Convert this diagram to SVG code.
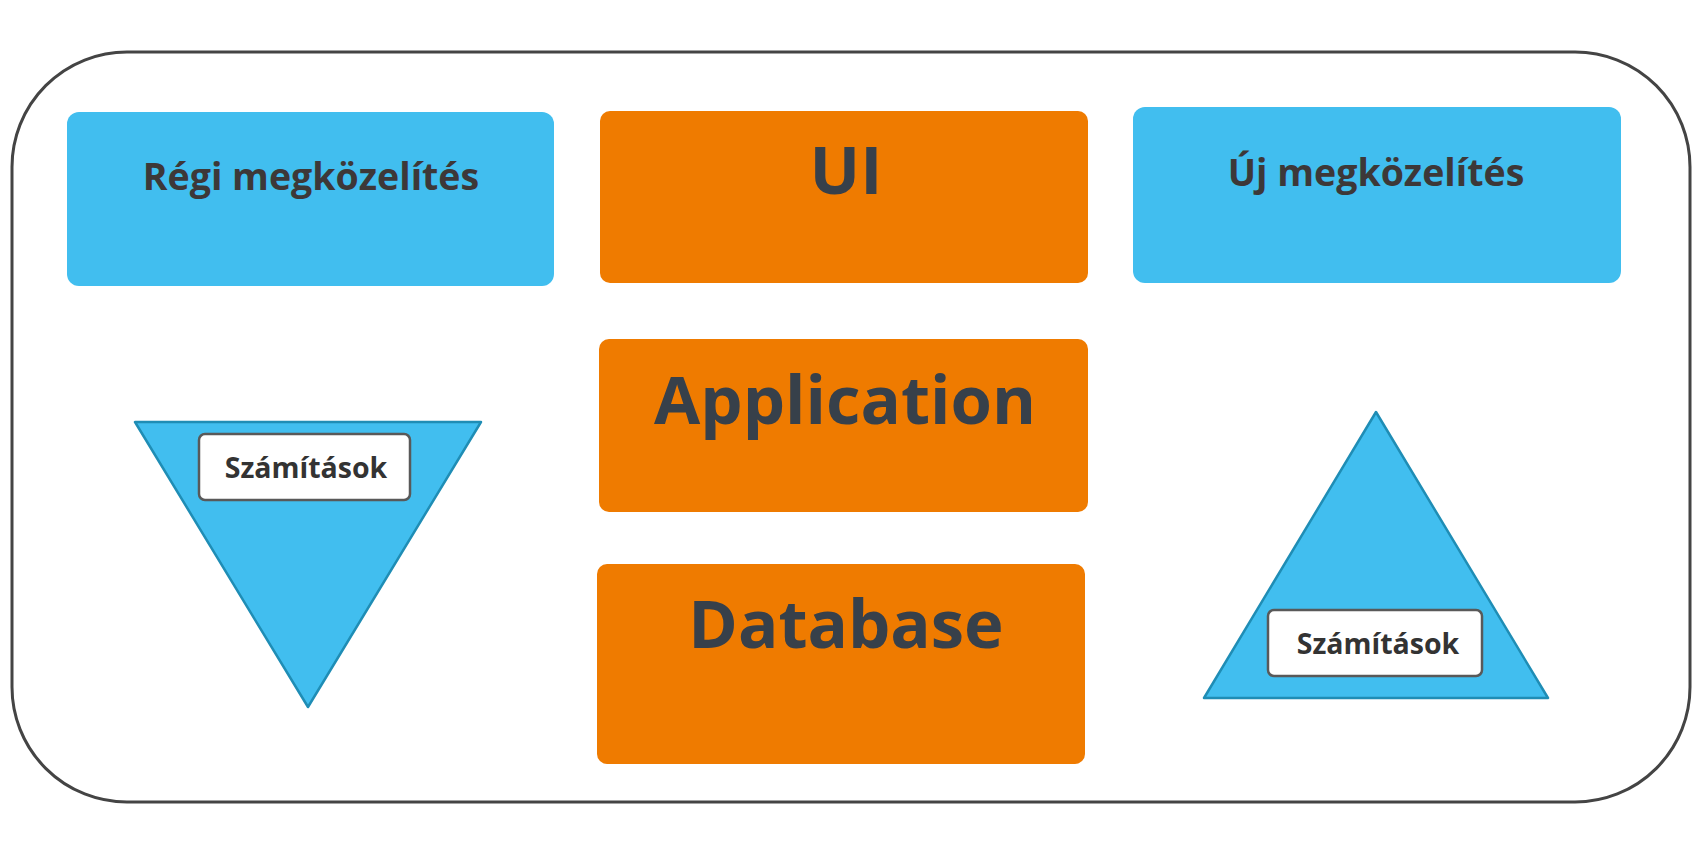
<svg xmlns="http://www.w3.org/2000/svg" width="1700" height="850" viewBox="0 0 1700 850">
<style>
.blue{fill:#41BEEF}
.orange{fill:#EF7B00}
.tri{fill:#41BEEF;stroke:#1F8DB5;stroke-width:2.5;stroke-linejoin:round}
.calc{fill:#FFFFFF;stroke:#595959;stroke-width:2.5}
.hdr{font-family:"Open Sans","Liberation Sans",sans-serif;font-weight:700;font-size:37.5px;fill:#3D3838;text-anchor:middle}
.layer{font-family:"Open Sans","Liberation Sans",sans-serif;font-weight:700;font-size:67px;fill:#37404A;text-anchor:middle}
.ctext{font-family:"Open Sans","Liberation Sans",sans-serif;font-weight:700;font-size:28.5px;fill:#333333;text-anchor:middle}
</style>
<rect id="frame" x="12" y="52" width="1678" height="750" rx="115" ry="115" fill="#FFFFFF" stroke="#444444" stroke-width="3"/>
<g id="regi">
<rect class="blue" x="67" y="112" width="487" height="174" rx="12"/>
<text class="hdr" x="311" y="190">Régi megközelítés</text>
</g>
<g id="ui">
<rect class="orange" x="600" y="111" width="488" height="172" rx="10"/>
<text class="layer" x="846" y="194">UI</text>
</g>
<g id="uj">
<rect class="blue" x="1133" y="107" width="488" height="176" rx="12"/>
<text class="hdr" x="1376" y="186">Új megközelítés</text>
</g>
<g id="application">
<rect class="orange" x="599" y="339" width="489" height="173" rx="10"/>
<text class="layer" x="845" y="424">Application</text>
</g>
<g id="database">
<rect class="orange" x="597" y="564" width="488" height="200" rx="10"/>
<text class="layer" x="846" y="648">Database</text>
</g>
<g id="old-triangle">
<polygon class="tri" points="135,422 481,422 308,707"/>
<rect class="calc" x="199" y="434" width="211" height="66" rx="6"/>
<text class="ctext" x="306" y="478">Számítások</text>
</g>
<g id="new-triangle">
<polygon class="tri" points="1376,412 1548,698 1204,698"/>
<rect class="calc" x="1268" y="610" width="214" height="66" rx="6"/>
<text class="ctext" x="1378" y="654">Számítások</text>
</g>
<g id="connectors"></g>
</svg>
